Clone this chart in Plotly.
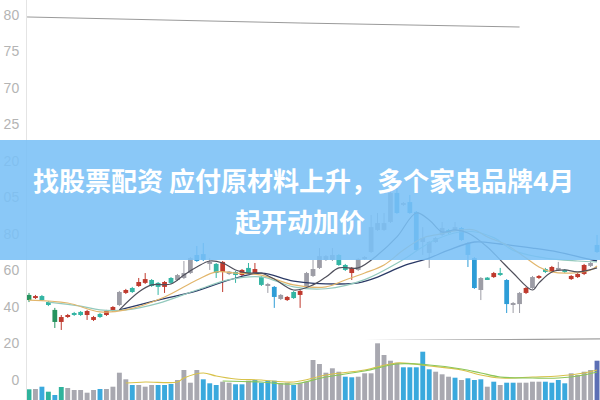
import plotly.graph_objects as go

# ---------------- data ----------------
opens = [46.6, 44.9, 46.0, 42.7, 38.4, 31.8, 34.5, 36.7, 37.3, 35.6, 32.9, 36.2, 35.6, 37.8, 41.1,
         47.7, 50.4, 51.5, 53.2, 54.8, 53.2, 51.0, 55.9, 54.8, 55.9, 58.6, 65.2, 65.8, 64.7, 63.6,
         59.2, 59.2, 59.2, 57.5, 61.4, 58.6, 56.4, 52.6, 51.0, 46.6, 43.8, 48.2, 46.6, 51.0, 57.0,
         61.4, 65.8, 65.8, 68.5, 63.0, 58.6, 60.3, 66.3, 70.1, 82.2, 86.0, 86.6, 102.5, 95.9, 97.5,
         92.1, 75.6, 75.6, 75.6, 79.5, 82.2, 82.2, 83.3, 75.1, 66.8, 49.3, 55.9, 56.4, 58.6, 54.8,
         41.1, 41.6, 47.7, 50.4, 55.9, 60.8, 59.2, 60.3, 60.3, 55.3, 56.4, 58.1, 62.5, 70.1]
closes = [43.8, 46.0, 43.8, 41.1, 31.8, 34.5, 35.6, 35.6, 35.6, 37.8, 34.5, 34.5, 37.8, 40.0, 48.2,
          49.3, 48.2, 53.7, 55.3, 51.5, 51.0, 53.7, 53.2, 57.5, 58.6, 66.8, 68.5, 69.0, 63.6, 58.6,
          64.7, 58.6, 57.5, 60.3, 58.6, 60.8, 52.1, 51.5, 45.5, 44.4, 45.5, 44.9, 48.8, 58.6, 60.8,
          67.9, 67.9, 68.5, 63.0, 60.3, 61.4, 66.3, 67.4, 83.8, 86.0, 82.2, 102.5, 91.5, 97.0, 91.5,
          71.2, 77.8, 69.6, 77.8, 83.3, 80.5, 83.8, 76.7, 68.5, 50.4, 55.9, 55.3, 58.6, 57.5, 41.6,
          42.2, 47.7, 50.4, 56.4, 57.0, 59.2, 61.9, 61.4, 59.2, 57.0, 58.1, 63.0, 64.1, 74.0]
highs = [47.7, 46.6, 46.6, 43.3, 39.5, 35.6, 36.2, 37.3, 37.8, 38.4, 35.1, 36.7, 38.4, 40.5, 48.8,
         49.9, 51.0, 55.9, 58.6, 55.3, 53.7, 54.2, 56.4, 58.1, 65.2, 67.4, 73.4, 75.1, 66.8, 64.1,
         65.2, 59.7, 59.7, 60.8, 64.1, 64.1, 57.0, 53.2, 51.5, 47.1, 46.0, 48.8, 49.3, 59.2, 65.8,
         72.3, 68.5, 72.3, 69.0, 63.6, 61.9, 66.8, 67.9, 90.4, 91.5, 91.5, 108.5, 108.5, 97.5, 101.4,
         92.6, 83.8, 76.2, 78.4, 86.6, 82.7, 86.6, 83.8, 75.6, 67.4, 56.4, 56.4, 59.2, 61.4, 55.3,
         42.7, 48.2, 51.0, 57.0, 57.5, 61.4, 62.5, 64.7, 60.8, 57.5, 58.6, 63.6, 64.7, 79.5]
lows = [42.7, 44.4, 43.3, 40.5, 28.5, 27.4, 34.0, 35.1, 35.1, 32.9, 32.3, 34.0, 35.1, 37.3, 40.5,
        47.1, 47.7, 51.0, 52.6, 51.0, 46.6, 47.7, 52.6, 54.2, 55.3, 58.1, 64.7, 65.2, 60.3, 55.9,
        48.2, 57.5, 53.2, 57.0, 58.1, 58.1, 51.5, 47.7, 39.5, 43.8, 43.3, 44.4, 39.5, 50.4, 56.4,
        60.8, 65.2, 65.2, 62.5, 59.7, 54.8, 59.7, 65.8, 69.6, 81.6, 81.6, 86.0, 91.0, 95.3, 91.0,
        70.7, 68.5, 61.4, 75.1, 78.9, 80.0, 81.6, 76.2, 61.9, 49.9, 43.8, 54.8, 55.9, 57.0, 36.7,
        36.7, 36.7, 47.1, 49.9, 55.3, 58.6, 58.6, 59.7, 58.6, 54.8, 55.9, 57.5, 61.9, 69.6]
candle_kind = list("grttgrrttrrtrrk" "rtrrttrtkkkbbkt" "rktrtrtkbkrtrkk"
                   "kkkttrkkkkkkbkb" "bkkkktkbbbktrtb" "kkrkrtrktrrrkb")

volumes = [10.7, 11, 13.3, 8.3, 5, 13, 12, 10, 10, 7.3, 10, 11, 11, 13.3, 27.3,
           20.7, 15, 15, 13.3, 15, 15, 15, 16, 20, 30, 17.3, 30, 20.7, 16.7, 15,
           18.3, 17.3, 15.7, 15.7, 19.3, 20, 17.3, 19.3, 19.3, 16.7, 17.3, 15, 16.7, 18.3, 40,
           36, 27.3, 31.7, 28.3, 23.3, 22.7, 23.3, 26.7, 26.7, 56.7, 45, 39.3, 37.3, 32.7, 32.7,
           32.7, 48.3, 30.7, 28.3, 25.7, 23.3, 22.3, 20, 21.7, 20, 20.7, 13.3, 18.3, 15, 17.3,
           17.3, 17.3, 17.3, 18.3, 18.3, 18.3, 17.3, 20, 16.7, 26.7, 25, 28.3, 30, 39.3]
volume_kind = list("tkbtbtkkkkkbkkk" "kbkkkbbbkkkkbbb" "kkbbkbbbbkkbkkk"
                   "kkkkbbkkkkkkkbb" "bbbkkkbkbbbkbkb" "bkkkkbbbbkkkkp")

# moving-average lines read at sample points (index, value)
ma5_x = [14, 17, 19, 22, 24, 26, 28, 30, 32, 34, 36, 38, 41, 44, 46, 48, 51, 54, 57, 60,
         62, 64, 66, 68, 71, 73, 75, 78, 79, 81, 83, 85, 88]
ma5_y = [38.4, 48.2, 52.1, 52.6, 57.5, 61.9, 65.2, 64.1, 60.3, 58.6, 58.6, 55.3, 49.3, 52.1,
         56.4, 61.4, 61.4, 68.5, 78.4, 91.5, 87.7, 81.1, 82.2, 80.5, 72.9, 65.8, 58.6, 49.3,
         53.2, 59.2, 60.3, 59.2, 61.4]
ma10_x = [0, 6, 11, 15, 21, 26, 29, 32, 36, 41, 46, 49, 52, 55, 58, 61, 63, 67, 69, 71,
          74, 77, 79, 81, 84, 87, 88]
ma10_y = [43.8, 42.2, 37.3, 38.4, 45.5, 54.8, 59.2, 58.6, 57.5, 52.1, 51.0, 54.8, 58.6, 63.0,
          71.2, 77.8, 79.5, 82.2, 82.2, 78.4, 74.0, 66.8, 61.9, 59.2, 58.6, 60.3, 62.5]
ma20_x = [3, 8, 11, 15, 20, 26, 31, 36, 41, 46, 52, 58, 63, 68, 72, 75, 80, 85, 88]
ma20_y = [42.7, 40.5, 38.4, 38.4, 42.0, 49.3, 55.0, 56.5, 51.0, 50.0, 55.0, 66.0, 77.0, 81.5,
          78.0, 71.0, 66.8, 65.2, 64.7]
ma60_x = [14, 20, 26, 31, 36, 41, 48, 51, 54, 58, 62, 65, 69, 73, 78, 82, 86, 88]
ma60_y = [38.4, 43.8, 48.8, 54.8, 58.6, 54.2, 52.6, 53.2, 56.4, 62.5, 66.8, 71.2, 75.6, 74.5,
          72.3, 70.1, 66.8, 65.2]
top_line_x = [-0.3, 42, 76]
top_line_y = [198.9, 195.6, 193.4]
sep_line_x = [-0.3, 88.5]
sep_line_y = [20.3, 22.5]

vma_a_x = [15, 18, 23, 24, 27, 29, 32, 36, 41, 46, 52, 57, 62, 67, 70, 73, 78, 82, 86, 88]
vma_a_y = [17, 18, 18, 22, 27, 24, 21, 20, 18, 25, 30, 37, 34, 30, 25, 22, 23, 24, 27, 30]
vma_b_x = [30, 36, 41, 46, 52, 57, 62, 67, 70, 73, 78, 82, 86, 88]
vma_b_y = [19, 18, 16, 23, 29, 36, 35, 31, 27, 23, 22, 22, 25, 28]

tick_vals = [0, 20, 40, 60, 80, 100, 120, 140, 160, 180, 200]
tick_text = ["0", "20", "40", "60", "80", "05", "20", "25", "70", "75", "80"]

title_line1 = "找股票配资 应付原材料上升，多个家电品牌4月"
title_line2 = "起开动加价"

# ---------------- styling ----------------
candle_pal = {"g": "#27935f", "r": "#bf3a2e", "t": "#34b5a4", "k": "#9d9da6", "b": "#2e9dd7"}
vol_pal = {"t": "#2fb39c", "k": "#a8a8b0", "b": "#3aa9dd", "p": "#5c6fb5"}

n = min(len(opens), len(closes), len(highs), len(lows), len(candle_kind))
xs = list(range(n))
nv = min(len(volumes), len(volume_kind))
vxs = list(range(nv))

fig = go.Figure()

# wicks, one trace per colour
for kind, col in candle_pal.items():
    wx, wy = [], []
    for i in xs:
        if candle_kind[i] == kind:
            wx += [i, i, None]
            wy += [lows[i], highs[i], None]
    if wx:
        fig.add_trace(go.Scatter(x=wx, y=wy, mode="lines", line=dict(color=col, width=1),
                                 hoverinfo="skip", showlegend=False))

# bodies
body_base = [min(opens[i], closes[i]) for i in xs]
body_h = [max(abs(closes[i] - opens[i]), 0.8) for i in xs]
fig.add_trace(go.Bar(x=xs, y=body_h, base=body_base, width=0.74,
                     marker=dict(color=[candle_pal[candle_kind[i]] for i in xs], line=dict(width=0)),
                     hoverinfo="skip", showlegend=False))

# MA lines
for lx, ly, col, w in [(ma60_x, ma60_y, "#2b3a66", 1.3), (ma20_x, ma20_y, "#93c9bd", 1.2),
                       (ma10_x, ma10_y, "#e2b66c", 1.2), (ma5_x, ma5_y, "#50505c", 1.2)]:
    fig.add_trace(go.Scatter(x=lx, y=ly, mode="lines", line=dict(color=col, width=w, shape="spline"),
                             hoverinfo="skip", showlegend=False))

fig.add_trace(go.Scatter(x=top_line_x, y=top_line_y, mode="lines",
                         line=dict(color="#9a9a9a", width=1), hoverinfo="skip", showlegend=False))
fig.add_trace(go.Scatter(x=sep_line_x, y=sep_line_y, mode="lines",
                         line=dict(color="#a0a0a0", width=1.2), hoverinfo="skip", showlegend=False))

# volume
fig.add_trace(go.Bar(x=vxs, y=volumes[:nv], width=0.76, yaxis="y2",
                     marker=dict(color=[vol_pal[volume_kind[i]] for i in vxs], line=dict(width=0)),
                     hoverinfo="skip", showlegend=False))
fig.add_trace(go.Scatter(x=vma_a_x, y=vma_a_y, yaxis="y2", mode="lines",
                         line=dict(color="#d8c24a", width=1.2, shape="spline"),
                         hoverinfo="skip", showlegend=False))
fig.add_trace(go.Scatter(x=vma_b_x, y=vma_b_y, yaxis="y2", mode="lines",
                         line=dict(color="#8cc65a", width=1.2, shape="spline"),
                         hoverinfo="skip", showlegend=False))

left = 27
plot_w = 600 - left

fig.update_layout(
    width=600, height=400,
    margin=dict(l=left, r=0, t=0, b=0),
    paper_bgcolor="white", plot_bgcolor="white",
    showlegend=False,
    xaxis=dict(range=[-0.31, 88.46], showgrid=False, zeroline=False, showticklabels=False,
               showline=False, ticks=""),
    yaxis=dict(range=[-10.96, 208.2], tickvals=tick_vals, ticktext=tick_text,
               showgrid=False, zeroline=False, showline=True, linecolor="#e4e4e4", linewidth=1,
               ticks="", ticklabelstandoff=4,
               tickfont=dict(family="Liberation Sans, Arial, sans-serif", size=14, color="#b4b4b4")),
    yaxis2=dict(domain=[0, 0.15], range=[0, 60], anchor="x", showgrid=False, zeroline=False,
                showticklabels=False, showline=False),
    shapes=[dict(type="rect", xref="paper", yref="paper",
                 x0=-left / plot_w, x1=1.0, y0=1 - 260 / 400, y1=1 - 140 / 400,
                 fillcolor="rgba(122,192,246,0.88)", line=dict(width=0), layer="above")],
    annotations=[
        dict(text="<b>" + title_line1 + "</b>", xref="paper", yref="paper",
             x=(303 - left) / plot_w, y=1 - 179 / 400, xanchor="center", yanchor="middle",
             showarrow=False,
             font=dict(family="Noto Sans CJK SC", size=26, color="white")),
        dict(text="<b>" + title_line2 + "</b>", xref="paper", yref="paper",
             x=(300 - left) / plot_w, y=1 - 220 / 400, xanchor="center", yanchor="middle",
             showarrow=False,
             font=dict(family="Noto Sans CJK SC", size=26, color="white")),
    ],
)

fig.write_html("out.html", config={"displayModeBar": False},
               post_script="document.body.style.margin='0';document.body.style.overflow='hidden';")
